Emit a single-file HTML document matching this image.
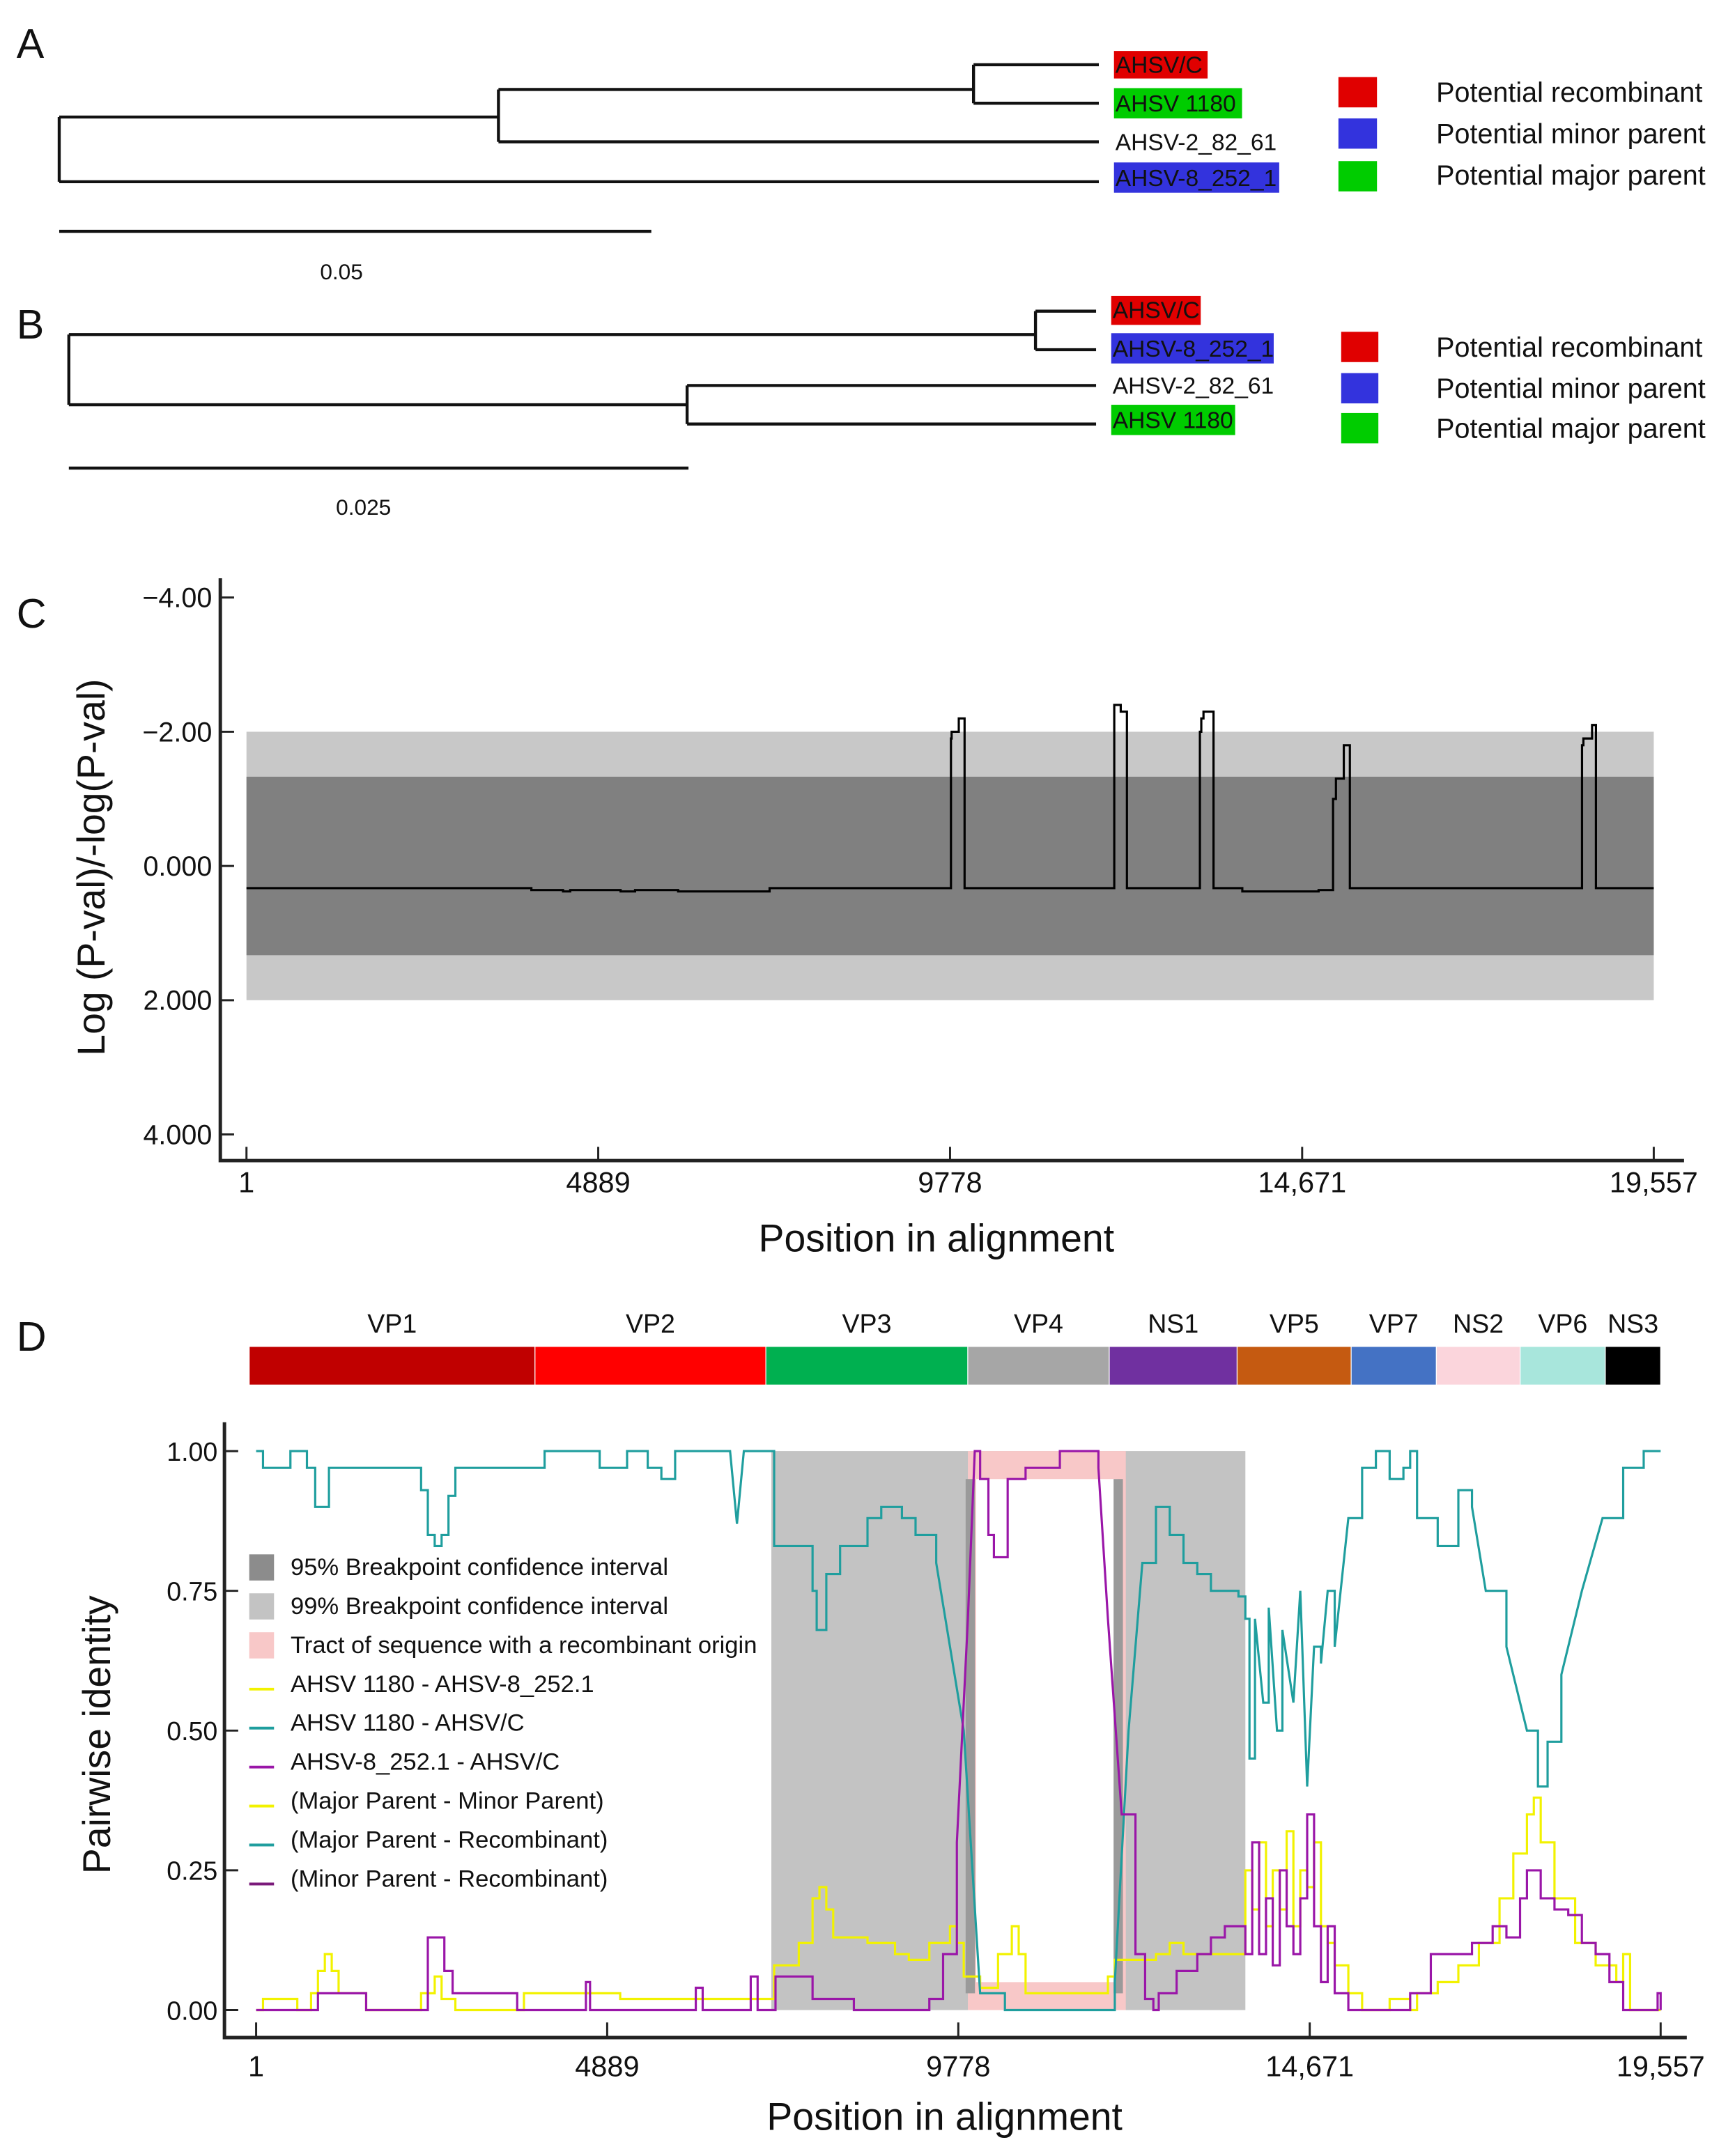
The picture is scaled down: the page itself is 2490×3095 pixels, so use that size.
<!DOCTYPE html>
<html><head><meta charset="utf-8">
<style>
html,body{margin:0;padding:0;background:#fff;}
svg{display:block;}
text{font-family:"Liberation Sans",Arial,sans-serif;fill:#111;}
</style></head>
<body>
<svg id="fig" width="2490" height="3095" viewBox="0 0 1260 1566" preserveAspectRatio="none" xmlns="http://www.w3.org/2000/svg">
<rect x="0" y="0" width="1260" height="1566" fill="#fff"/>

<!-- Panel A -->
<g stroke="#111" stroke-width="2.2" fill="none">
  <path d="M43,85 V132 M43,85 H362 M362,65 V103 M362,65 H707 M707,47 V75 M707,47 H798 M707,75 H798 M362,103 H798 M43,132 H798"/>
  <path d="M43,168 H473"/>
</g>
<text x="12" y="42" font-size="30">A</text>
<text x="248" y="203" font-size="16" text-anchor="middle">0.05</text>
<rect x="809" y="37" width="68" height="20" fill="#e00000"/>
<text x="810" y="53" font-size="17">AHSV/C</text>
<rect x="809" y="64" width="93" height="22" fill="#00cc00"/>
<text x="810" y="81" font-size="17">AHSV 1180</text>
<text x="810" y="109" font-size="17">AHSV-2_82_61</text>
<rect x="809" y="118" width="120" height="22" fill="#3333dd"/>
<text x="810" y="135" font-size="17">AHSV-8_252_1</text>
<g>
  <rect x="972" y="56" width="28" height="22" fill="#e00000"/>
  <rect x="972" y="86" width="28" height="22" fill="#3333dd"/>
  <rect x="972" y="117" width="28" height="22" fill="#00cc00"/>
  <text x="1043" y="74" font-size="20">Potential recombinant</text>
  <text x="1043" y="104" font-size="20">Potential minor parent</text>
  <text x="1043" y="134" font-size="20">Potential major parent</text>
</g>

<!-- Panel B -->
<g stroke="#111" stroke-width="2.2" fill="none">
  <path d="M50,243 V294 M50,243 H752 M752,226 V254 M752,226 H796 M752,254 H796 M50,294 H499 M499,280 V308 M499,280 H796 M499,308 H796"/>
  <path d="M50,340 H500"/>
</g>
<text x="12" y="246" font-size="30">B</text>
<text x="264" y="374" font-size="16" text-anchor="middle">0.025</text>
<rect x="807" y="215" width="65" height="21" fill="#e00000"/>
<text x="808" y="231" font-size="17">AHSV/C</text>
<rect x="807" y="242" width="118" height="22" fill="#3333dd"/>
<text x="808" y="259" font-size="17">AHSV-8_252_1</text>
<text x="808" y="286" font-size="17">AHSV-2_82_61</text>
<rect x="807" y="294" width="90" height="22" fill="#00cc00"/>
<text x="808" y="311" font-size="17">AHSV 1180</text>
<g>
  <rect x="974" y="241" width="27" height="22" fill="#e00000"/>
  <rect x="974" y="271" width="27" height="22" fill="#3333dd"/>
  <rect x="974" y="300" width="27" height="22" fill="#00cc00"/>
  <text x="1043" y="259" font-size="20">Potential recombinant</text>
  <text x="1043" y="289" font-size="20">Potential minor parent</text>
  <text x="1043" y="318" font-size="20">Potential major parent</text>
</g>

<!-- Panel C -->
<text x="12" y="456" font-size="30">C</text>
<g id="chartC"></g>
<text x="680" y="909" font-size="28" text-anchor="middle">Position in alignment</text>
<text transform="translate(76,630) rotate(-90)" font-size="28" text-anchor="middle">Log (P-val)/-log(P-val)</text>

<!-- Panel D -->
<text x="12" y="981" font-size="30">D</text>
<g id="genes"></g>
<g id="chartD"></g>
<text x="686" y="1547" font-size="28" text-anchor="middle">Position in alignment</text>
<text transform="translate(80,1260) rotate(-90)" font-size="28" text-anchor="middle">Pairwise identity</text>
<g id="legendD"></g>
</svg>

<script>
// ---- Panel C data ----
const cTicksX = [1, 4889, 9778, 14671, 19557];
const cTickLabelsX = ["1", "4889", "9778", "14,671", "19,557"];
const cTicksY = [-4, -2, 0, 2, 4];
const cTickLabelsY = ["\u22124.00", "\u22122.00", "0.000", "2.000", "4.000"];
const cBand99 = [-2, 2];
const cBand95 = [-1.33, 1.33];
const cPos = [1, 3960, 4400, 4500, 5200, 5400, 6000, 7270, 9790, 9800, 9900, 9980, 12060, 12080, 12150, 12235, 13250, 13270, 13300, 13440, 13840, 14900, 15100, 15140, 15250, 15333, 18560, 18580, 18700, 18754, 19557];
const cVal = [0.33, 0.36, 0.38, 0.36, 0.38, 0.36, 0.38, 0.33, -1.9, -2.0, -2.2, 0.33, -2.4, -2.4, -2.3, 0.33, -2.0, -2.2, -2.3, 0.33, 0.38, 0.36, -1.0, -1.3, -1.8, 0.33, -1.8, -1.9, -2.1, 0.33, 0.33];

// ---- Panel D data ----
const geneNames = ["VP1","VP2","VP3","VP4","NS1","VP5","VP7","NS2","VP6","NS3"];
const geneEnds = [3884, 7098, 9910, 11880, 13660, 15248, 16434, 17601, 18787, 19557];
const geneColors = ["#c00000","#ff0000","#00b050","#a6a6a6","#7030a0","#c55a11","#4472c4","#fbd5dc","#a8e6dc","#000000"];
const dTicksY = [0, 0.25, 0.5, 0.75, 1.0];
const dTickLabelsY = ["0.00","0.25","0.50","0.75","1.00"];
const ci99 = [[7175, 13775]];
const ci95 = [[9880, 10010], [11940, 12070]];
const tract = [9911, 12110];
const tealPos = [1,97,384,479,632,709,823,1015,2010,2201,2297,2392,2488,2584,2679,2775,3923,4018,4688,4784,5166,5453,5644,5836,6601,6697,6792,7175,7213,7557,7749,7806,7940,8132,8514,8705,8992,9183,9470,9662,9853,10082,10427,11766,11957,12148,12340,12531,12722,12914,13105,13296,13679,13775,13832,13909,14023,14100,14215,14291,14444,14540,14635,14731,14827,14922,15018,15209,15401,15592,15783,15975,16070,16166,16453,16740,16930,17122,17409,17696,17849,17983,18174,18461,18748,19035,19322,19557];
const tealVal = [1.00,0.97,0.97,1.0,1.0,0.97,0.90,0.97,0.97,0.97,0.93,0.85,0.83,0.85,0.92,0.97,0.97,1.0,1.0,0.97,1.0,0.97,0.95,1.0,1.0,0.87,1.0,1.0,0.83,0.83,0.75,0.68,0.78,0.83,0.88,0.90,0.88,0.85,0.80,0.65,0.50,0.03,0.0,0.0,0.05,0.50,0.80,0.90,0.85,0.80,0.78,0.75,0.74,0.70,0.45,0.70,0.55,0.72,0.50,0.68,0.55,0.75,0.40,0.65,0.62,0.75,0.65,0.88,0.97,1.0,0.95,0.97,1.0,0.88,0.83,0.93,0.90,0.75,0.65,0.50,0.40,0.48,0.60,0.75,0.88,0.97,1.0,1.0];
const purplePos = [1,766,862,1340,1532,2297,2392,2545,2622,2737,3540,3636,4497,4592,4650,6027,6123,6218,6792,6888,6983,7175,7232,7462,7749,8132,8323,9088,9375,9566,9758,9911,10007,10082,10197,10274,10389,10465,10714,11097,11192,11575,11728,11861,12053,12244,12378,12493,12569,12722,12818,13105,13296,13488,13679,13775,13870,13966,14062,14157,14253,14349,14444,14540,14635,14731,14827,14922,15018,15209,15592,15783,16070,16166,16358,16740,16930,17218,17409,17600,17696,17887,18079,18270,18461,18653,18844,19035,19418,19514,19557];
const purpleVal = [0,0,0.03,0.03,0,0,0.13,0.13,0.07,0.03,0.03,0,0,0.05,0,0,0.04,0,0,0.06,0,0,0.06,0.06,0.02,0.02,0,0,0.02,0.10,0.30,0.70,1.00,0.95,0.85,0.81,0.81,0.95,0.97,0.97,1.0,1.0,0.97,0.70,0.35,0.10,0.02,0,0.03,0.03,0.07,0.10,0.13,0.15,0.15,0.10,0.30,0.10,0.20,0.08,0.25,0.15,0.10,0.20,0.35,0.15,0.05,0.15,0.03,0,0,0,0.03,0.03,0.10,0.10,0.12,0.15,0.13,0.20,0.25,0.20,0.18,0.17,0.12,0.10,0.05,0,0,0.03,0];
const yellowPos = [1,97,479,575,766,862,958,1053,1149,1436,1532,2201,2297,2488,2584,2775,3540,3731,4114,5070,6410,7175,7213,7557,7749,7844,7940,8036,8514,8897,9088,9375,9662,9758,9853,10082,10331,10522,10618,10714,11575,11861,11957,12531,12722,12914,13679,13775,13870,13966,14062,14157,14253,14349,14444,14540,14635,14731,14827,14922,15018,15209,15401,15783,16070,16166,16453,16740,17027,17314,17505,17696,17792,17887,18079,18366,18653,18940,19035,19131,19557];
const yellowVal = [0,0.02,0.02,0,0.03,0.07,0.10,0.07,0.03,0.03,0,0,0.03,0.06,0.02,0,0,0.03,0.03,0.02,0.02,0.02,0.08,0.12,0.20,0.22,0.18,0.13,0.12,0.10,0.09,0.12,0.15,0.12,0.06,0.04,0.10,0.15,0.10,0.03,0.03,0.06,0.09,0.10,0.12,0.10,0.10,0.25,0.18,0.30,0.15,0.25,0.18,0.32,0.15,0.25,0.22,0.30,0.15,0.12,0.08,0.03,0,0.02,0,0.03,0.05,0.08,0.12,0.20,0.28,0.35,0.38,0.30,0.20,0.12,0.08,0.05,0.10,0,0];

const NS = "http://www.w3.org/2000/svg";
function mk(tag, attrs, parent){ const e=document.createElementNS(NS,tag); for(const k in attrs) e.setAttribute(k,attrs[k]); parent.appendChild(e); return e; }

// axis functions
const xC = p => 179 + (p-1)/19556*1022;
const yC = v => 629 + v*48.75;
const xD = p => 186 + (p-1)/19556*1020;
const yD = v => 1460 - v*406;

function stepPath(pos, val, xf, yf){
  let d = "M" + xf(pos[0]).toFixed(1) + "," + yf(val[0]).toFixed(1);
  for(let i=1;i<pos.length;i++){
    d += " H" + xf(pos[i]).toFixed(1) + " V" + yf(val[i]).toFixed(1);
  }
  return d;
}
// step for small changes, sloped for large transitions
function mixedPath(pos, val, xf, yf){
  let d = "M" + xf(pos[0]).toFixed(1) + "," + yf(val[0]).toFixed(1);
  for(let i=1;i<pos.length;i++){
    if(Math.abs(val[i]-val[i-1]) > 0.12 && Math.abs(val[i]-val[i-1]) < 0.9 && (pos[i]-pos[i-1]) > 90 && (val[i-1] > 0.45 || val[i] > 0.45)){
      d += " L" + xf(pos[i]).toFixed(1) + "," + yf(val[i]).toFixed(1);
    } else {
      d += " H" + xf(pos[i]).toFixed(1) + " V" + yf(val[i]).toFixed(1);
    }
  }
  return d;
}

// ---- Chart C ----
const gC = document.getElementById('chartC');
let r = mk('rect',{x:xC(1),y:yC(cBand99[0]),width:xC(19557)-xC(1),height:yC(cBand99[1])-yC(cBand99[0]),fill:'#c8c8c8'},gC);


r = mk('rect',{x:xC(1),y:yC(cBand95[0]),width:xC(19557)-xC(1),height:yC(cBand95[1])-yC(cBand95[0]),fill:'#808080'},gC);


let ln = mk('path',{d:stepPath(cPos,cVal,xC,yC),fill:'none',stroke:'#000','stroke-width':1.6},gC);


let ax = mk('path',{d:'M160,420 V843 H1223',fill:'none',stroke:'#222','stroke-width':2.5},gC);


cTicksX.forEach((t,i)=>{
  const x=xC(t);
  const tk=mk('line',{x1:x,x2:x,y1:833,y2:843,stroke:'#222','stroke-width':1.5},gC);
  
  
  const tx=mk('text',{x:x,y:866,'font-size':21,'text-anchor':'middle'},gC);
  tx.textContent=cTickLabelsX[i];
  
  
});
cTicksY.forEach((t,i)=>{
  const y=yC(t);
  const tk=mk('line',{x1:160,x2:170,y1:y,y2:y,stroke:'#222','stroke-width':1.5},gC);
  
  
  const tx=mk('text',{x:154,y:y+7,'font-size':20,'text-anchor':'end'},gC);
  tx.textContent=cTickLabelsY[i];
  
  
});

// ---- Gene map ----
const gG = document.getElementById('genes');
let prev = 1;
geneNames.forEach((n,i)=>{
  const x0 = i===0 ? 181 : xD(prev);
  const x1 = xD(geneEnds[i]);
  const rr = mk('rect',{x:x0,y:978,width:x1-x0,height:28,fill:geneColors[i],stroke:'#fff','stroke-width':0.6},gG);
  
  
  const tx = mk('text',{x:(x0+x1)/2,y:968,'font-size':19,'text-anchor':'middle'},gG);
  tx.textContent=n;
  
  
  prev = geneEnds[i];
});

// ---- Chart D ----
const gD = document.getElementById('chartD');
ci99.forEach(c=>{
  const e=mk('rect',{x:xD(c[0]),y:yD(1),width:xD(c[1])-xD(c[0]),height:yD(0)-yD(1),fill:'#c3c3c3'},gD);
  
  
});
let tr = mk('rect',{x:xD(tract[0]),y:yD(1),width:xD(tract[1])-xD(tract[0]),height:yD(0)-yD(1),fill:'#f8c8c8'},gD);


let wh = mk('rect',{x:xD(tract[0])+6,y:yD(0.95),width:xD(tract[1])-xD(tract[0])-12,height:yD(0.05)-yD(0.95),fill:'#fff'},gD);


ci95.forEach(c=>{
  const e=mk('rect',{x:xD(c[0]),y:yD(0.95),width:xD(c[1])-xD(c[0]),height:yD(0.03)-yD(0.95),fill:'#9a9a9a'},gD);
  
  
});
[[yellowPos,yellowVal,'#f2f200','yellow-series'],[tealPos,tealVal,'#1f9e9e','teal-series'],[purplePos,purpleVal,'#9a16a8','purple-series']].forEach(s=>{
  const p=mk('path',{d:mixedPath(s[0],s[1],xD,yD),fill:'none',stroke:s[2],'stroke-width':1.6},gD);
  
  
});
let axd = mk('path',{d:'M163,1033 V1480 H1225',fill:'none',stroke:'#222','stroke-width':2.5},gD);


cTicksX.forEach((t,i)=>{
  const x=xD(t);
  const tk=mk('line',{x1:x,x2:x,y1:1469,y2:1480,stroke:'#222','stroke-width':1.5},gD);
  
  
  const tx=mk('text',{x:x,y:1508,'font-size':21,'text-anchor':'middle'},gD);
  tx.textContent=cTickLabelsX[i];
  
  
});
dTicksY.forEach((t,i)=>{
  const y=yD(t);
  const tk=mk('line',{x1:163,x2:173,y1:y,y2:y,stroke:'#222','stroke-width':1.5},gD);
  
  
  const tx=mk('text',{x:158,y:y+7,'font-size':19,'text-anchor':'end'},gD);
  tx.textContent=dTickLabelsY[i];
  
  
});

// ---- Legend D ----
const legLabels = ["95% Breakpoint confidence interval","99% Breakpoint confidence interval","Tract of sequence with a recombinant origin","AHSV 1180 - AHSV-8_252.1","AHSV 1180 - AHSV/C","AHSV-8_252.1 - AHSV/C","(Major Parent - Minor Parent)","(Major Parent - Recombinant)","(Minor Parent - Recombinant)"];
const legKinds = ["box","box","box","line","line","line","line","line","line"];
const legColors = ["#8c8c8c","#c3c3c3","#f8c8c8","#f2f200","#1f9e9e","#9a16a8","#f2f200","#1f9e9e","#7a1a7a"];
const gL = document.getElementById('legendD');
legLabels.forEach((lab,i)=>{
  const y = 1138 + i*28.3;
  let sw;
  if(legKinds[i]==="box") sw = mk('rect',{x:181,y:y-9,width:18,height:19,fill:legColors[i]},gL);
  else sw = mk('line',{x1:181,x2:199,y1:y+4,y2:y+4,stroke:legColors[i],'stroke-width':2},gL);
  
  
  const tx = mk('text',{x:211,y:y+6,'font-size':17.5},gL);
  tx.textContent = lab;
  
  
});
</script>
</body></html>
